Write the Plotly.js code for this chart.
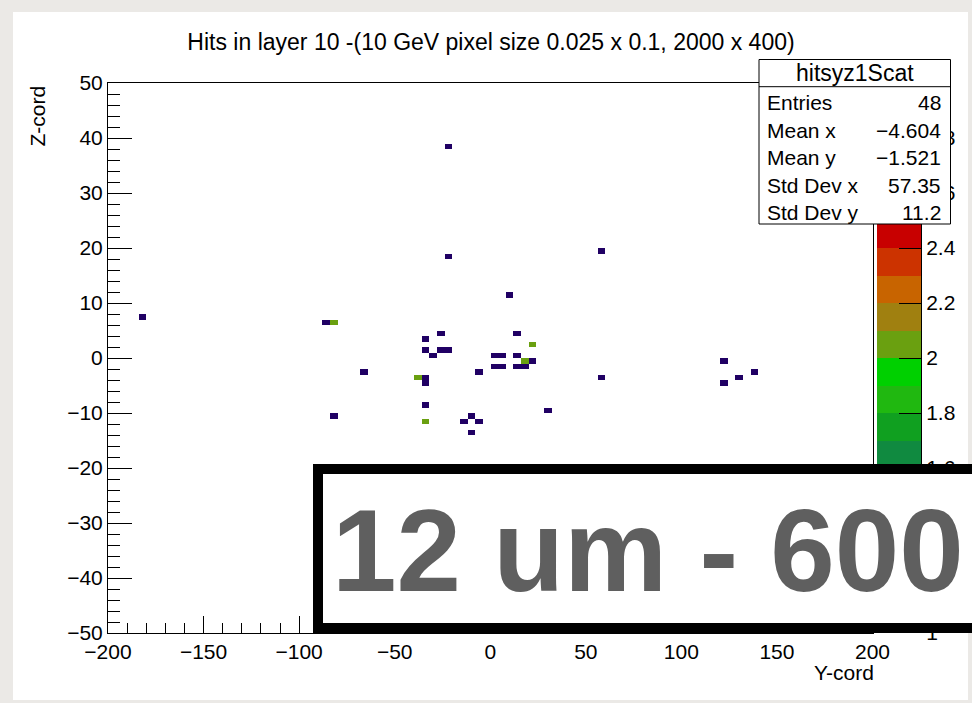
<!DOCTYPE html>
<html>
<head>
<meta charset="utf-8">
<script src="https://cdn.plot.ly/plotly-3.0.1.min.js"></script>
<style>
  html, body { margin: 0; padding: 0; background: #ebe9e6; }
  #chart { width: 972px; height: 703px; }
</style>
</head>
<body>
<div id="chart"></div>
<script>
// ---- hit cells: bin centres (Y in the plane, Z along the beam) and bin content ----
const hitY = [10, -26, 14, -34, 22, -34, -26, -22, -30, 2, 6, 14, 18, 22, 2, 6, 14, 18,
              -6, -38, -34, -34, 58, -34, 30, -10, -14, -6, -34, -10, -22, -22, 58,
              -182, -86, -82, -66, -82, 122, 122, 130, 138];
const hitZ = [11.5, 4.5, 4.5, 3.5, 2.5, 1.5, 1.5, 1.5, 0.5, 0.5, 0.5, 0.5, -0.5, -0.5, -1.5, -1.5, -1.5, -1.5,
              -2.5, -3.5, -3.5, -4.5, -3.5, -8.5, -9.5, -10.5, -11.5, -11.5, -11.5, -13.5, 38.5, 18.5, 19.5,
              7.5, 6.5, 6.5, -2.5, -10.5, -0.5, -4.5, -3.5, -2.5];
const hitN = [1, 1, 1, 1, 2, 1, 1, 1, 1, 1, 1, 1, 2, 1, 1, 1, 1, 1,
              1, 2, 1, 1, 1, 1, 1, 1, 1, 1, 2, 1, 1, 1, 1,
              1, 1, 2, 1, 1, 1, 1, 1, 1];

// ---- histogram binning ----
const yMin = -200, yMax = 200, yBins = 100;
const zMin = -50, zMax = 50, zBins = 100;

// ---- colour palette: 20 contour levels between 1 and 3 ----
const paletteMin = 1, paletteMax = 3;
const paletteColors = ['#200064', '#2e168c', '#2836ae', '#1656c6', '#0c76c0', '#0c8e9e',
                       '#108a40', '#10a020', '#20b810', '#00d000', '#6aa010', '#a08010',
                       '#c86400', '#cc3300', '#c80000', '#b80000', '#a80000', '#980000',
                       '#880000', '#780000'];
// labelled palette levels (the ones left uncovered by the banner)
const paletteTicks = [1, 1.6, 1.8, 2, 2.2, 2.4, 2.6, 2.8];

// ---- statistics box text ----
const statsName = 'hitsyz1Scat';
const statsLabels = ['Entries', 'Mean x', 'Mean y', 'Std Dev x', 'Std Dev y'];
const statsValues = ['48', '\u22124.604', '\u22121.521', '57.35', '11.2'];

const titleText = 'Hits in layer 10 -(10 GeV pixel size 0.025 x 0.1, 2000 x 400)';
const bannerText = '12 um - 600';

// ---- page geometry (pixels) ----
const W = 972, H = 703;
const M = { l: 108, r: 40, t: 83, b: 70 };
const plotW = W - M.l - M.r, plotH = H - M.t - M.b;
const px = x => (x - M.l) / plotW;           // pixel x -> paper x
const py = y => (H - M.b - y) / plotH;       // pixel y -> paper y

// ---- fill the 2-D histogram ----
const dy = (yMax - yMin) / yBins, dz = (zMax - zMin) / zBins;
const grid = [];
for (let j = 0; j < zBins; j++) grid.push(new Array(yBins).fill(null));
hitY.forEach((y, k) => {
  const i = Math.floor((y - yMin) / dy);
  const j = Math.floor((hitZ[k] - zMin) / dz);
  grid[j][i] = (grid[j][i] || 0) + hitN[k];
});

// stepped colour scale, one flat band per contour
const nLev = paletteColors.length;
const colorscale = [];
paletteColors.forEach((c, i) => {
  colorscale.push([i / nLev, c]);
  colorscale.push([(i + 1) / nLev - 1e-6, c]);
});
colorscale[colorscale.length - 1][0] = 1;

// palette column: one brick per contour level
const levEdges = [], levMid = [];
for (let i = 0; i <= nLev; i++) levEdges.push(paletteMin + i * (paletteMax - paletteMin) / nLev);
for (let i = 0; i < nLev; i++) levMid.push([(levEdges[i] + levEdges[i + 1]) / 2]);

const hist = {
  type: 'heatmap',
  z: grid,
  x0: yMin + dy / 2, dx: dy,
  y0: zMin + dz / 2, dy: dz,
  zmin: paletteMin, zmax: paletteMax,
  colorscale: colorscale,
  showscale: false,
  zsmooth: false,
  hoverongaps: false,
  xaxis: 'x', yaxis: 'y'
};

const palette = {
  type: 'heatmap',
  z: levMid,
  x: [0, 1],
  y: levEdges,
  zmin: paletteMin, zmax: paletteMax,
  colorscale: colorscale,
  showscale: false,
  zsmooth: false,
  hoverinfo: 'skip',
  xaxis: 'x2', yaxis: 'y2'
};

const tickFont = { family: 'Liberation Sans, Arial, sans-serif', size: 21, color: '#000' };
const frameRight = 872.5;

// stats box geometry
const sb = { x0: 759, x1: 950.5, y0: 59.5, y1: 224, head: 86.7 };
const rowY = [102.3, 130, 157.3, 185, 212.7];

const shapes = [
  // white canvas on the grey page
  { type: 'rect', xref: 'paper', yref: 'paper', layer: 'below',
    x0: px(13), x1: px(968), y0: py(700), y1: py(12),
    fillcolor: '#ffffff', line: { width: 0 } },
  // stats box
  { type: 'rect', xref: 'paper', yref: 'paper', layer: 'above',
    x0: px(sb.x0), x1: px(sb.x1), y0: py(sb.y1), y1: py(sb.y0),
    fillcolor: '#ffffff', line: { color: '#000', width: 1 } },
  { type: 'line', xref: 'paper', yref: 'paper', layer: 'above',
    x0: px(sb.x0), x1: px(sb.x1), y0: py(sb.head), y1: py(sb.head),
    line: { color: '#000', width: 1 } },
  // framed banner
  { type: 'rect', xref: 'paper', yref: 'paper', layer: 'above',
    x0: px(318), x1: px(1000), y0: py(628), y1: py(469),
    fillcolor: '#ffffff', line: { color: '#000', width: 10 } }
];

const annotations = [
  { text: 'Y-cord', xref: 'paper', yref: 'paper', x: px(876), y: py(672),
    xanchor: 'right', yanchor: 'middle', showarrow: false, font: tickFont },
  { text: 'Z-cord', xref: 'paper', yref: 'paper', x: px(37), y: py(84),
    xanchor: 'center', yanchor: 'top', textangle: -90, showarrow: false, font: tickFont },
  { text: statsName, xref: 'paper', yref: 'paper', x: px((sb.x0 + sb.x1) / 2), y: py(72.7),
    xanchor: 'center', yanchor: 'middle', showarrow: false,
    font: { family: tickFont.family, size: 23, color: '#000' } },
  { text: bannerText, xref: 'paper', yref: 'paper', x: px(330), y: py(551),
    xanchor: 'left', yanchor: 'middle', showarrow: false,
    font: { family: 'Liberation Sans, Arial, sans-serif', size: 116, color: '#5f5f5f', weight: 'bold' } }
];
statsLabels.forEach((lab, i) => {
  annotations.push({ text: lab, xref: 'paper', yref: 'paper', x: px(765), y: py(rowY[i]),
    xanchor: 'left', yanchor: 'middle', showarrow: false, font: tickFont });
  annotations.push({ text: statsValues[i], xref: 'paper', yref: 'paper', x: px(943), y: py(rowY[i]),
    xanchor: 'right', yanchor: 'middle', showarrow: false, font: tickFont });
});

const layout = {
  width: W, height: H,
  margin: M,
  paper_bgcolor: '#ebe9e6',
  plot_bgcolor: 'rgba(0,0,0,0)',
  showlegend: false,
  font: tickFont,
  title: { text: titleText, x: 491 / W, xanchor: 'center', y: 1 - 42 / H, yanchor: 'middle',
           font: { family: tickFont.family, size: 23, color: '#000' } },
  xaxis: {
    domain: [0, px(frameRight)], range: [yMin, yMax],
    tick0: 0, dtick: 50, ticks: 'inside', ticklen: 17, tickwidth: 1, tickcolor: '#000',
    minor: { dtick: 10, ticks: 'inside', ticklen: 10, tickwidth: 1, tickcolor: '#000' },
    showline: true, mirror: true, linecolor: '#000', linewidth: 1,
    showgrid: false, zeroline: false, tickfont: tickFont
  },
  yaxis: {
    range: [zMin, zMax],
    tick0: 0, dtick: 10, ticks: 'inside', ticklen: 24, tickwidth: 1, tickcolor: '#000',
    minor: { dtick: 2, ticks: 'inside', ticklen: 12, tickwidth: 1, tickcolor: '#000' },
    showline: true, mirror: true, linecolor: '#000', linewidth: 1,
    showgrid: false, zeroline: false, tickfont: tickFont
  },
  xaxis2: { domain: [px(877), px(921)], range: [0, 1], visible: false, anchor: 'y2' },
  yaxis2: {
    anchor: 'x2', side: 'right', range: [paletteMin, paletteMax],
    tickmode: 'array', tickvals: paletteTicks,
    ticks: 'inside', ticklen: 22, tickwidth: 1, tickcolor: '#000',
    showline: true, linecolor: '#000', linewidth: 1,
    showgrid: false, zeroline: false, tickfont: tickFont
  },
  shapes: shapes,
  annotations: annotations
};

Plotly.newPlot('chart', [hist, palette], layout, { staticPlot: true, displayModeBar: false });
</script>
</body>
</html>
